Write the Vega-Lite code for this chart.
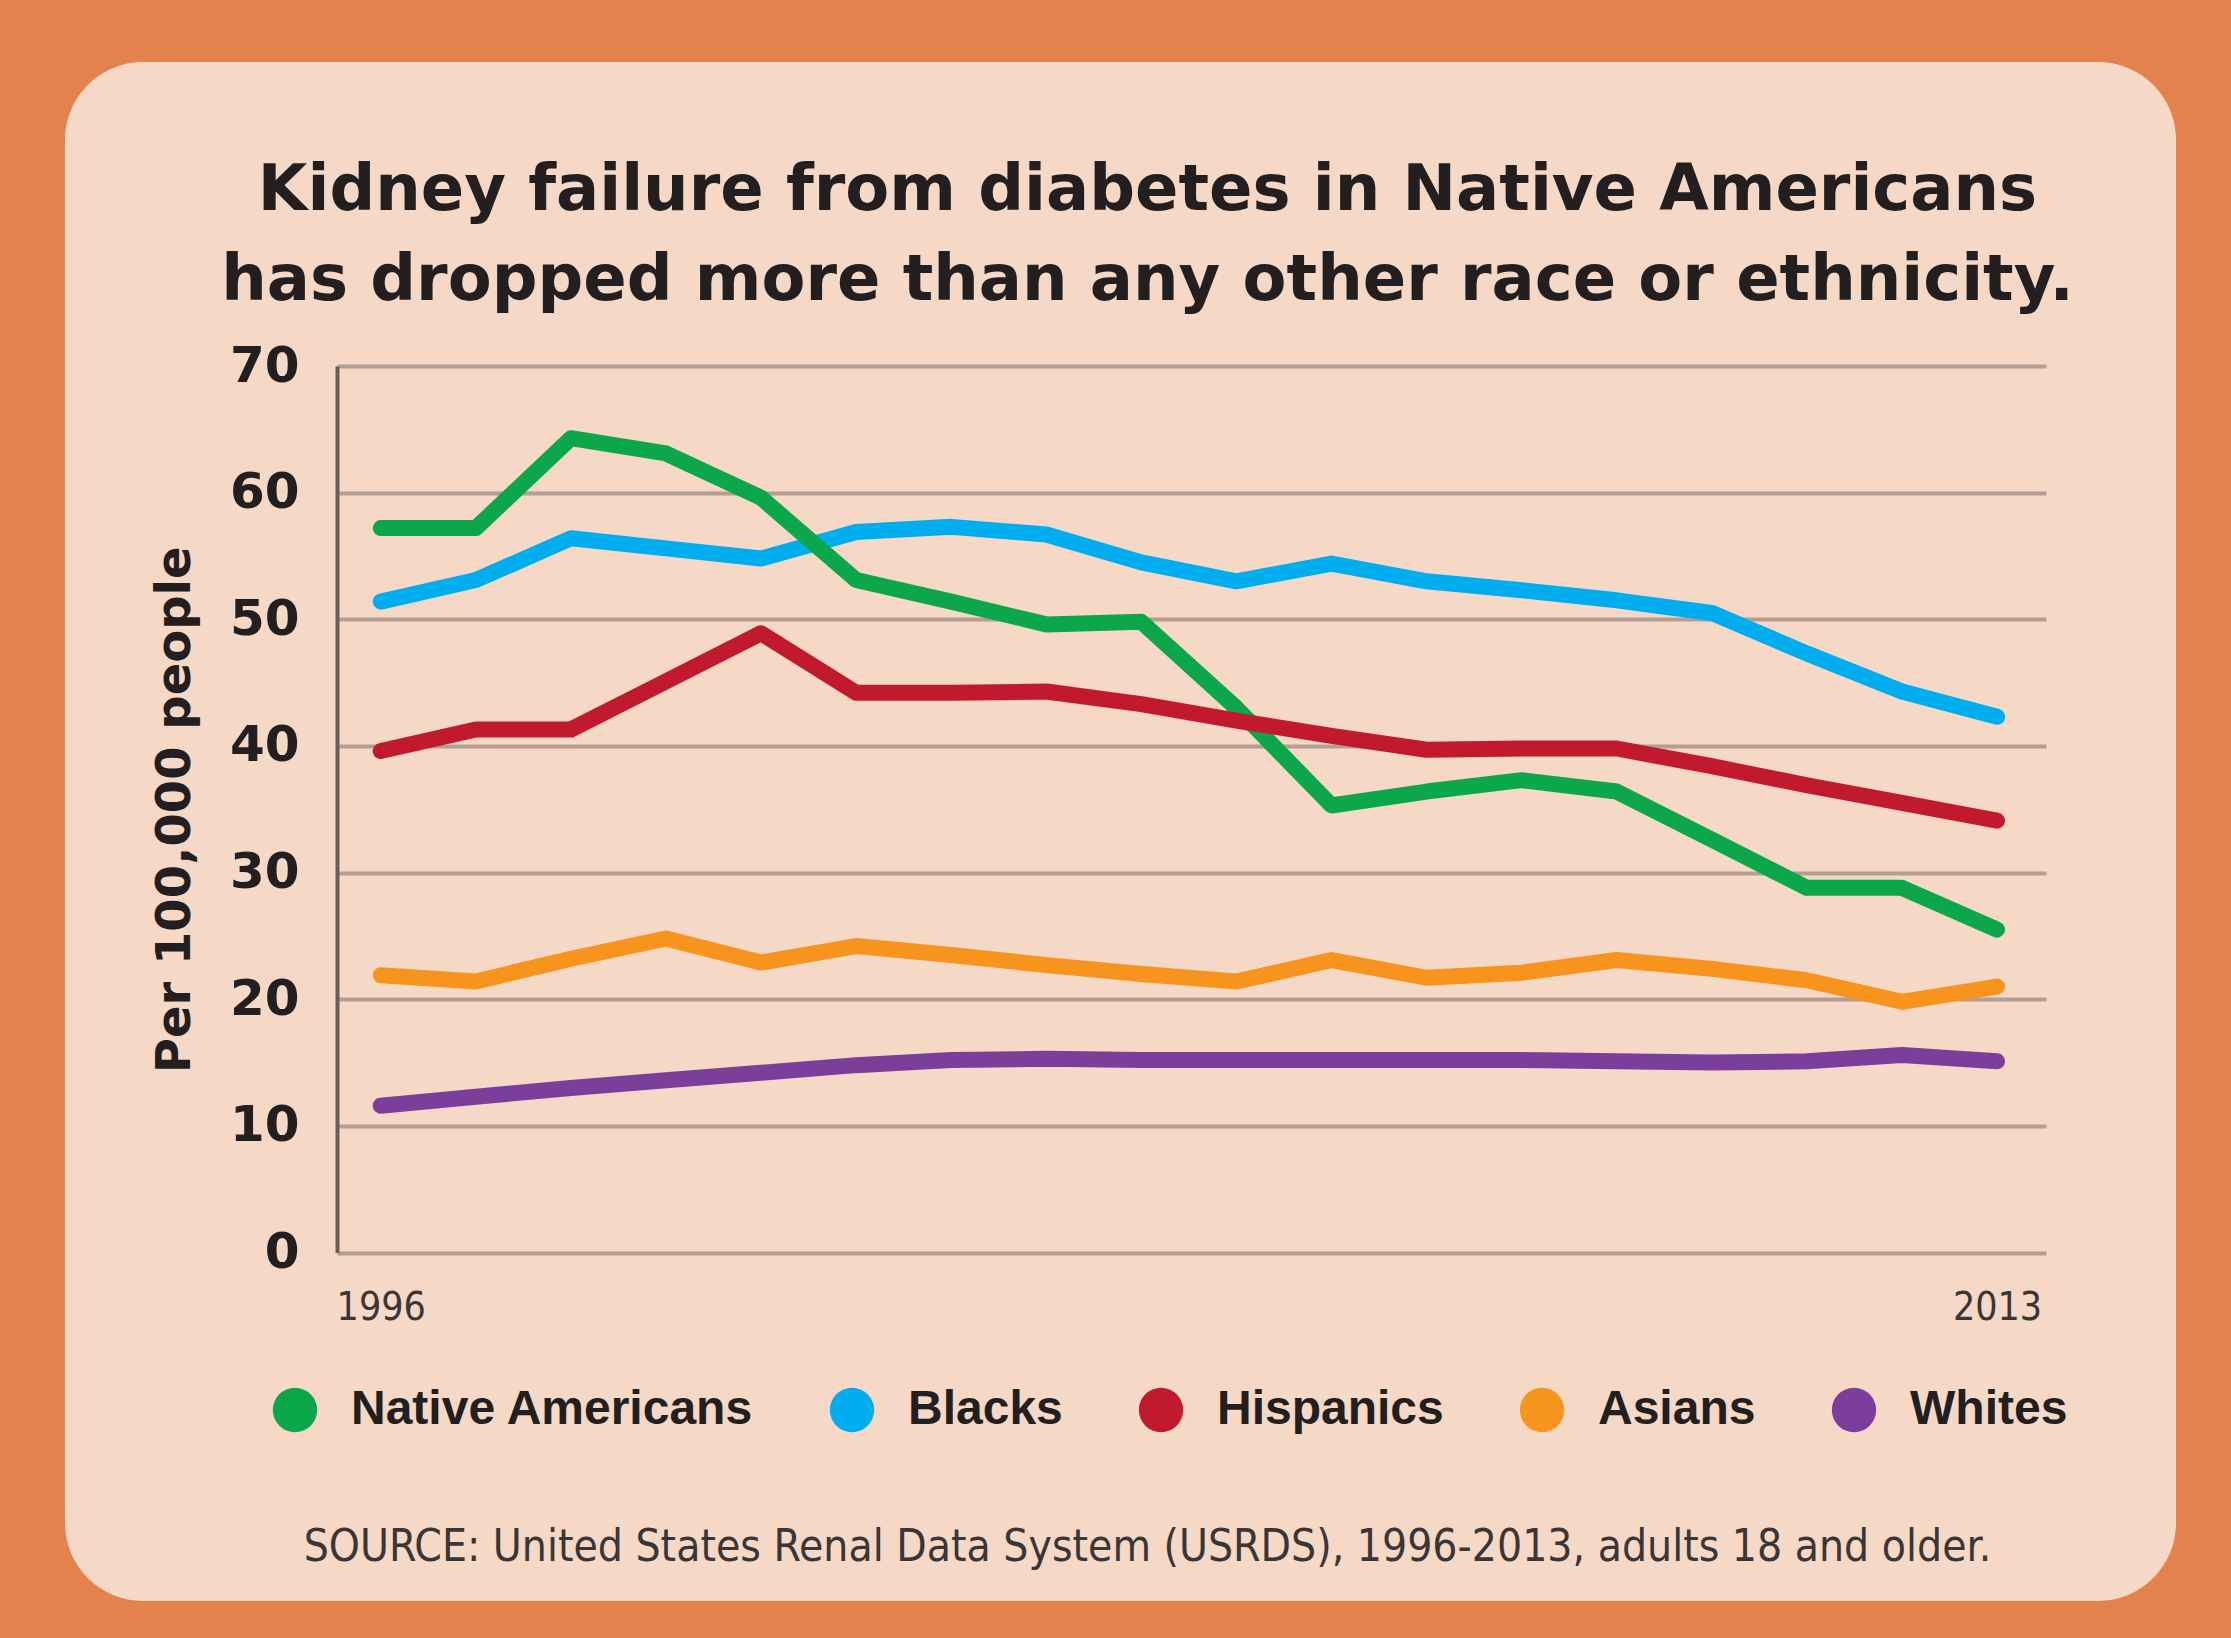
{
  "$schema": "https://vega.github.io/schema/vega-lite/v6.json",
  "width": 2111,
  "height": 1539,
  "autosize": {"type": "none"},
  "padding": {"left": 65, "top": 62, "right": 55, "bottom": 37},
  "background": "#E3824D",
  "title": {
    "text": ["Kidney failure from diabetes in Native Americans", "has dropped more than any other race or ethnicity."],
    "font": "DejaVu Sans",
    "fontWeight": "bold",
    "fontSize": 64,
    "lineHeight": 90,
    "color": "#231F20",
    "anchor": "middle",
    "frame": "group",
    "baseline": "alphabetic",
    "offset": -302,
    "dx": 27
  },
  "data": {
    "values": [
      {"group": "Whites", "year": 1996, "rate": 11.6},
      {"group": "Whites", "year": 1997, "rate": 12.3},
      {"group": "Whites", "year": 1998, "rate": 13.0},
      {"group": "Whites", "year": 1999, "rate": 13.6},
      {"group": "Whites", "year": 2000, "rate": 14.2},
      {"group": "Whites", "year": 2001, "rate": 14.8},
      {"group": "Whites", "year": 2002, "rate": 15.2},
      {"group": "Whites", "year": 2003, "rate": 15.3},
      {"group": "Whites", "year": 2004, "rate": 15.2},
      {"group": "Whites", "year": 2005, "rate": 15.2},
      {"group": "Whites", "year": 2006, "rate": 15.2},
      {"group": "Whites", "year": 2007, "rate": 15.2},
      {"group": "Whites", "year": 2008, "rate": 15.2},
      {"group": "Whites", "year": 2009, "rate": 15.1},
      {"group": "Whites", "year": 2010, "rate": 15.0},
      {"group": "Whites", "year": 2011, "rate": 15.1},
      {"group": "Whites", "year": 2012, "rate": 15.6},
      {"group": "Whites", "year": 2013, "rate": 15.1},
      {"group": "Asians", "year": 1996, "rate": 21.9},
      {"group": "Asians", "year": 1997, "rate": 21.4},
      {"group": "Asians", "year": 1998, "rate": 23.2},
      {"group": "Asians", "year": 1999, "rate": 24.8},
      {"group": "Asians", "year": 2000, "rate": 22.9},
      {"group": "Asians", "year": 2001, "rate": 24.2},
      {"group": "Asians", "year": 2002, "rate": 23.5},
      {"group": "Asians", "year": 2003, "rate": 22.7},
      {"group": "Asians", "year": 2004, "rate": 22.0},
      {"group": "Asians", "year": 2005, "rate": 21.4},
      {"group": "Asians", "year": 2006, "rate": 23.1},
      {"group": "Asians", "year": 2007, "rate": 21.7},
      {"group": "Asians", "year": 2008, "rate": 22.1},
      {"group": "Asians", "year": 2009, "rate": 23.1},
      {"group": "Asians", "year": 2010, "rate": 22.4},
      {"group": "Asians", "year": 2011, "rate": 21.5},
      {"group": "Asians", "year": 2012, "rate": 19.8},
      {"group": "Asians", "year": 2013, "rate": 21.0},
      {"group": "Blacks", "year": 1996, "rate": 51.4},
      {"group": "Blacks", "year": 1997, "rate": 53.1},
      {"group": "Blacks", "year": 1998, "rate": 56.4},
      {"group": "Blacks", "year": 1999, "rate": 55.6},
      {"group": "Blacks", "year": 2000, "rate": 54.8},
      {"group": "Blacks", "year": 2001, "rate": 56.9},
      {"group": "Blacks", "year": 2002, "rate": 57.3},
      {"group": "Blacks", "year": 2003, "rate": 56.7},
      {"group": "Blacks", "year": 2004, "rate": 54.5},
      {"group": "Blacks", "year": 2005, "rate": 53.0},
      {"group": "Blacks", "year": 2006, "rate": 54.4},
      {"group": "Blacks", "year": 2007, "rate": 53.0},
      {"group": "Blacks", "year": 2008, "rate": 52.3},
      {"group": "Blacks", "year": 2009, "rate": 51.5},
      {"group": "Blacks", "year": 2010, "rate": 50.5},
      {"group": "Blacks", "year": 2011, "rate": 47.3},
      {"group": "Blacks", "year": 2012, "rate": 44.3},
      {"group": "Blacks", "year": 2013, "rate": 42.3},
      {"group": "Native Americans", "year": 1996, "rate": 57.2},
      {"group": "Native Americans", "year": 1997, "rate": 57.2},
      {"group": "Native Americans", "year": 1998, "rate": 64.3},
      {"group": "Native Americans", "year": 1999, "rate": 63.1},
      {"group": "Native Americans", "year": 2000, "rate": 59.6},
      {"group": "Native Americans", "year": 2001, "rate": 53.1},
      {"group": "Native Americans", "year": 2002, "rate": 51.4},
      {"group": "Native Americans", "year": 2003, "rate": 49.6},
      {"group": "Native Americans", "year": 2004, "rate": 49.8},
      {"group": "Native Americans", "year": 2005, "rate": 43.0},
      {"group": "Native Americans", "year": 2006, "rate": 35.3},
      {"group": "Native Americans", "year": 2007, "rate": 36.4},
      {"group": "Native Americans", "year": 2008, "rate": 37.3},
      {"group": "Native Americans", "year": 2009, "rate": 36.4},
      {"group": "Native Americans", "year": 2010, "rate": 32.6},
      {"group": "Native Americans", "year": 2011, "rate": 28.8},
      {"group": "Native Americans", "year": 2012, "rate": 28.8},
      {"group": "Native Americans", "year": 2013, "rate": 25.5},
      {"group": "Hispanics", "year": 1996, "rate": 39.6},
      {"group": "Hispanics", "year": 1997, "rate": 41.3},
      {"group": "Hispanics", "year": 1998, "rate": 41.3},
      {"group": "Hispanics", "year": 1999, "rate": 45.1},
      {"group": "Hispanics", "year": 2000, "rate": 48.9},
      {"group": "Hispanics", "year": 2001, "rate": 44.2},
      {"group": "Hispanics", "year": 2002, "rate": 44.2},
      {"group": "Hispanics", "year": 2003, "rate": 44.3},
      {"group": "Hispanics", "year": 2004, "rate": 43.3},
      {"group": "Hispanics", "year": 2005, "rate": 42.0},
      {"group": "Hispanics", "year": 2006, "rate": 40.8},
      {"group": "Hispanics", "year": 2007, "rate": 39.7},
      {"group": "Hispanics", "year": 2008, "rate": 39.8},
      {"group": "Hispanics", "year": 2009, "rate": 39.8},
      {"group": "Hispanics", "year": 2010, "rate": 38.4},
      {"group": "Hispanics", "year": 2011, "rate": 36.9},
      {"group": "Hispanics", "year": 2012, "rate": 35.5},
      {"group": "Hispanics", "year": 2013, "rate": 34.1}
    ]
  },
  "encoding": {
    "x": {
      "field": "year",
      "type": "quantitative",
      "scale": {"domain": [1995.54, 2013.515], "range": [272, 1981], "nice": false, "zero": false},
      "axis": {
        "values": [1996, 2013],
        "format": "d",
        "orient": "bottom",
        "offset": -348.4,
        "domain": false,
        "ticks": false,
        "tickSize": 0,
        "grid": false,
        "labelFlush": false,
        "labelFont": "Liberation Sans Narrow, DejaVu Sans Condensed, Liberation Sans",
        "labelFontSize": 39,
        "labelColor": "#3B3535",
        "labelPadding": 36,
        "title": "SOURCE: United States Renal Data System (USRDS), 1996-2013, adults 18 and older.",
        "titleFont": "Liberation Sans Narrow, DejaVu Sans Condensed, Liberation Sans",
        "titleFontSize": 44,
        "titleFontWeight": "normal",
        "titleColor": "#3B3535",
        "titlePadding": 198,
        "titleX": 1082,
        "titleAlign": "center"
      }
    },
    "y": {
      "field": "rate",
      "type": "quantitative",
      "scale": {"domain": [0, 70], "range": [1190.6, 304], "nice": false, "zero": true},
      "axis": {
        "values": [0, 10, 20, 30, 40, 50, 60, 70],
        "orient": "left",
        "offset": -272,
        "domain": true,
        "domainColor": "#6A5E57",
        "domainWidth": 4,
        "ticks": false,
        "tickSize": 0,
        "grid": true,
        "gridColor": "#B39E93",
        "gridWidth": 4,
        "gridOpacity": 1,
        "labelFont": "DejaVu Sans",
        "labelFontWeight": "bold",
        "labelFontSize": 50,
        "labelColor": "#231F20",
        "labelPadding": 38,
        "title": "Per 100,000 people",
        "titleFont": "DejaVu Sans",
        "titleFontWeight": "bold",
        "titleFontSize": 48,
        "titleColor": "#231F20",
        "titlePadding": 30
      }
    }
  },
  "layer": [
    {
      "mark": {"type": "point", "filled": true, "opacity": 0},
      "encoding": {
        "color": {
          "field": "group",
          "type": "nominal",
          "scale": {
            "domain": ["Native Americans", "Blacks", "Hispanics", "Asians", "Whites"],
            "range": ["#0DA74B", "#00AEEF", "#C1192D", "#F7941D", "#7B3F9B"]
          },
          "legend": {
            "orient": "none",
            "legendX": 206,
            "legendY": 1324,
            "direction": "horizontal",
            "title": null,
            "symbolType": "circle",
            "symbolSize": 1963,
            "symbolStrokeWidth": 0,
            "symbolOpacity": 1,
            "labelFont": "Liberation Sans",
            "labelFontWeight": "bold",
            "labelFontSize": 48,
            "labelColor": "#231F20",
            "labelOffset": 32,
            "columnPadding": 74,
            "padding": 0,
            "labelLimit": 0
          }
        }
      }
    },
    {
      "mark": {"type": "line", "strokeWidth": 16, "strokeCap": "round", "strokeJoin": "round"},
      "encoding": {
        "color": {
          "field": "group",
          "type": "nominal",
          "scale": {
            "domain": ["Native Americans", "Blacks", "Hispanics", "Asians", "Whites"],
            "range": ["#0DA74B", "#00AEEF", "#C1192D", "#F7941D", "#7B3F9B"]
          }
        }
      }
    }
  ],
  "config": {
    "view": {"fill": "#F5D8C6", "stroke": null, "cornerRadius": 78}
  }
}
